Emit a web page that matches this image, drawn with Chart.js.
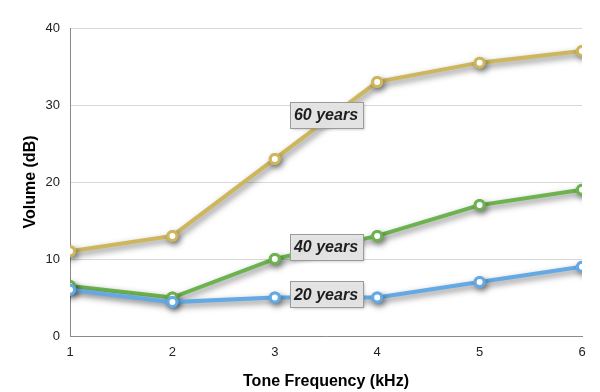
<!DOCTYPE html>
<html>
<head>
<meta charset="utf-8">
<script src="https://cdn.jsdelivr.net/npm/chart.js@4/dist/chart.umd.min.js"></script>
<style>
html,body{margin:0;padding:0;background:#fff;}
#wrap{width:600px;height:392px;}
</style>
</head>
<body>
<div id="wrap"><canvas id="c" width="600" height="392"></canvas></div>
<script>
const frequencies = [1, 2, 3, 4, 5, 6];
const years20 = [6, 4.4, 5, 5, 7, 9];
const years40 = [6.5, 5, 10, 13, 17, 19];
const years60 = [11, 13, 23, 33, 35.5, 37];
const seriesNames = ['20 years', '40 years', '60 years'];
const yTicks = [0, 10, 20, 30, 40];

const FONT = '"Liberation Sans", Arial, Helvetica, sans-serif';

function pts(vals){ return frequencies.map((f,i)=>({x:f,y:vals[i]})); }

// points: draw a solid shadowed disc first, then the normal point without shadow
const PE = Chart.PointElement;
const origDraw = PE.prototype.draw;
PE.prototype.draw = function(ctx, area){
  const o = this.options;
  if (o.radius > 0) {
    ctx.save();
    ctx.beginPath();
    ctx.arc(this.x, this.y, o.radius + o.borderWidth/2, 0, Math.PI*2);
    ctx.fillStyle = o.borderColor;
    ctx.fill();
    ctx.restore();
  }
  ctx.save();
  ctx.shadowColor = 'rgba(0,0,0,0)';
  ctx.shadowBlur = 0; ctx.shadowOffsetX = 0; ctx.shadowOffsetY = 0;
  origDraw.call(this, ctx, area);
  ctx.restore();
};

const shadowPlugin = {
  id:'shadow',
  beforeDatasetsDraw(chart){
    const ctx=chart.ctx; ctx.save();
    ctx.shadowColor='rgba(0,0,0,0.5)';
    ctx.shadowBlur=6; ctx.shadowOffsetX=2; ctx.shadowOffsetY=3;
  },
  afterDatasetsDraw(chart){ chart.ctx.restore(); }
};

// label anchors in data coordinates
const labelAnchors = [
  {text: seriesNames[2], x: 3.5, y: 28.7},
  {text: seriesNames[1], x: 3.5, y: 11.6},
  {text: seriesNames[0], x: 3.5, y: 5.4}
];
const labelPlugin = {
  id:'seriesLabels',
  afterDatasetsDraw(chart){
    const ctx=chart.ctx, xs=chart.scales.x, ys=chart.scales.y;
    ctx.save();
    ctx.font='italic bold 16px '+FONT;
    labelAnchors.forEach(l=>{
      const cx=xs.getPixelForValue(l.x), cy=ys.getPixelForValue(l.y);
      const w=73,h=26;
      const x0=Math.round(cx-w/2)+0.5, y0=Math.round(cy-h/2)+0.5;
      ctx.save();
      ctx.shadowColor='rgba(0,0,0,0.25)'; ctx.shadowBlur=3; ctx.shadowOffsetX=1; ctx.shadowOffsetY=1;
      ctx.fillStyle='rgba(228,228,228,0.96)';
      ctx.fillRect(x0,y0,w,h);
      ctx.restore();
      ctx.strokeStyle='#9a9a9a'; ctx.lineWidth=1;
      ctx.strokeRect(x0,y0,w,h);
      ctx.fillStyle='#1e1e1e';
      ctx.textAlign='center'; ctx.textBaseline='middle';
      ctx.fillText(l.text,cx,cy+1);
    });
    ctx.restore();
  }
};

function ds(label, vals, color, order){
  return {label, data: pts(vals), borderColor: color, backgroundColor:'#fff',
    pointBackgroundColor:'#fff', pointBorderColor: color, pointRadius:4.5,
    pointBorderWidth:3, borderWidth:4, tension:0, order};
}

new Chart(document.getElementById('c'), {
  type:'line',
  data:{ datasets:[
    ds(seriesNames[0], years20, '#64a9e3', 1),
    ds(seriesNames[1], years40, '#6cb24f', 2),
    ds(seriesNames[2], years60, '#cdb65c', 3)
  ]},
  options:{
    responsive:false, animation:false,
    layout:{padding:{left:0,right:18,top:28,bottom:0}},
    plugins:{legend:{display:false}, tooltip:{enabled:false}},
    scales:{
      x:{type:'linear', min:1, max:6,
        afterBuildTicks(s){ s.ticks = frequencies.map(v=>({value:v})); },
        afterFit(s){ s.height=56; },
        grid:{display:false, drawTicks:false},
        border:{display:true, color:'#8a8a8a', width:1},
        ticks:{padding:9, color:'#222', font:{family:FONT,size:13}},
        title:{display:true, text:'Tone Frequency (kHz)', color:'#000',
          font:{family:FONT,size:16,weight:'bold'}, padding:{top:0,bottom:1}}
      },
      y:{min:0, max:40,
        afterBuildTicks(s){ s.ticks = yTicks.map(v=>({value:v})); },
        afterFit(s){ s.width=70; },
        grid:{color:'#d9d9d9', drawTicks:false, lineWidth:1},
        border:{display:true, color:'#8a8a8a', width:1},
        ticks:{padding:10, color:'#222', font:{family:FONT,size:13}},
        title:{display:true, text:'Volume (dB)', color:'#000',
          font:{family:FONT,size:16,weight:'bold'}, padding:{top:21,bottom:0}}
      }
    }
  },
  plugins:[shadowPlugin, labelPlugin]
});
</script>
</body>
</html>
